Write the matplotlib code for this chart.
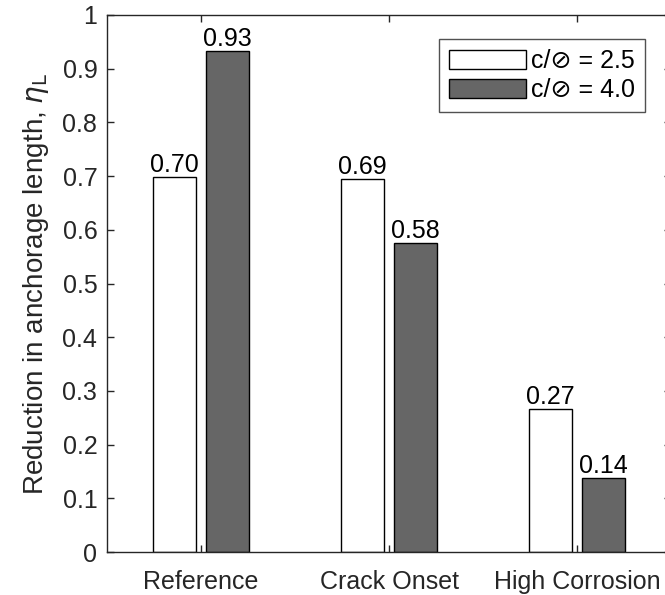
import matplotlib
matplotlib.use('Agg')
import matplotlib.pyplot as plt
import numpy as np

plt.rcParams['font.family'] = ['Liberation Sans', 'DejaVu Sans']

# data
categories = ['Reference', 'Crack Onset', 'High Corrosion']
eta_25 = [0.698, 0.694, 0.267]
eta_40 = [0.933, 0.576, 0.138]
series_labels = ['c/\u2298 = 2.5', 'c/\u2298 = 4.0']

W, H = 665, 595
fig = plt.figure(figsize=(W / 100, H / 100), dpi=100)
# axes runs a few pixels past the right edge of the picture (cropped, like the original)
left, right, top, bottom = 107, 671, 15, 552
ax = fig.add_axes([left / W, 1 - bottom / H, (right - left) / W, (bottom - top) / H])

# grouped bars, MATLAB-like geometry
x = np.arange(1, len(categories) + 1)
group_w = 2 / 3.5
bw = group_w / 2 * 0.8
off = group_w / 4
axis_col = '#262626'
fs = 18

ax.bar(x - off, eta_25, bw, color='white', edgecolor='black', lw=1.0,
       label=series_labels[0], zorder=2)
ax.bar(x + off, eta_40, bw, color='#666666', edgecolor='black', lw=1.0,
       label=series_labels[1], zorder=2)

for xi, v in zip(x, eta_25):
    ax.text(xi - off, v, f'{v:.2f}', ha='center', va='bottom', fontsize=fs)
for xi, v in zip(x, eta_40):
    ax.text(xi + off, v, f'{v:.2f}', ha='center', va='bottom', fontsize=fs)

ax.set_xlim(0.5, 3.5)
ax.set_ylim(0, 1)
ax.set_yticks(np.arange(0, 1.01, 0.1))
ax.set_yticklabels(['0'] + [f'{t:.1f}' for t in np.arange(0.1, 0.95, 0.1)] + ['1'])
ax.set_xticks(x)
ax.set_xticklabels(categories)

ax.tick_params(direction='in', length=5, width=1.0, colors=axis_col,
               labelsize=fs, top=True, right=True, pad=7)
ax.tick_params(axis='x', pad=13)
for s in ax.spines.values():
    s.set_color(axis_col)
    s.set_linewidth(1.0)

ax.set_ylabel(r'Reduction in anchorage length, $\eta_{\rm L}$', fontsize=20,
              color=axis_col, labelpad=8)

leg = ax.legend(loc='upper left',
                bbox_to_anchor=((439 - left) / (right - left), 1 - (39 - top) / (bottom - top)),
                fontsize=fs, frameon=True, fancybox=False, edgecolor=axis_col,
                handlelength=3.08, handleheight=0.8, borderpad=0.4, labelspacing=0.2,
                handletextpad=0.2, borderaxespad=0)
leg.get_frame().set_linewidth(1.0)

fig.savefig('out.png', dpi=100)
